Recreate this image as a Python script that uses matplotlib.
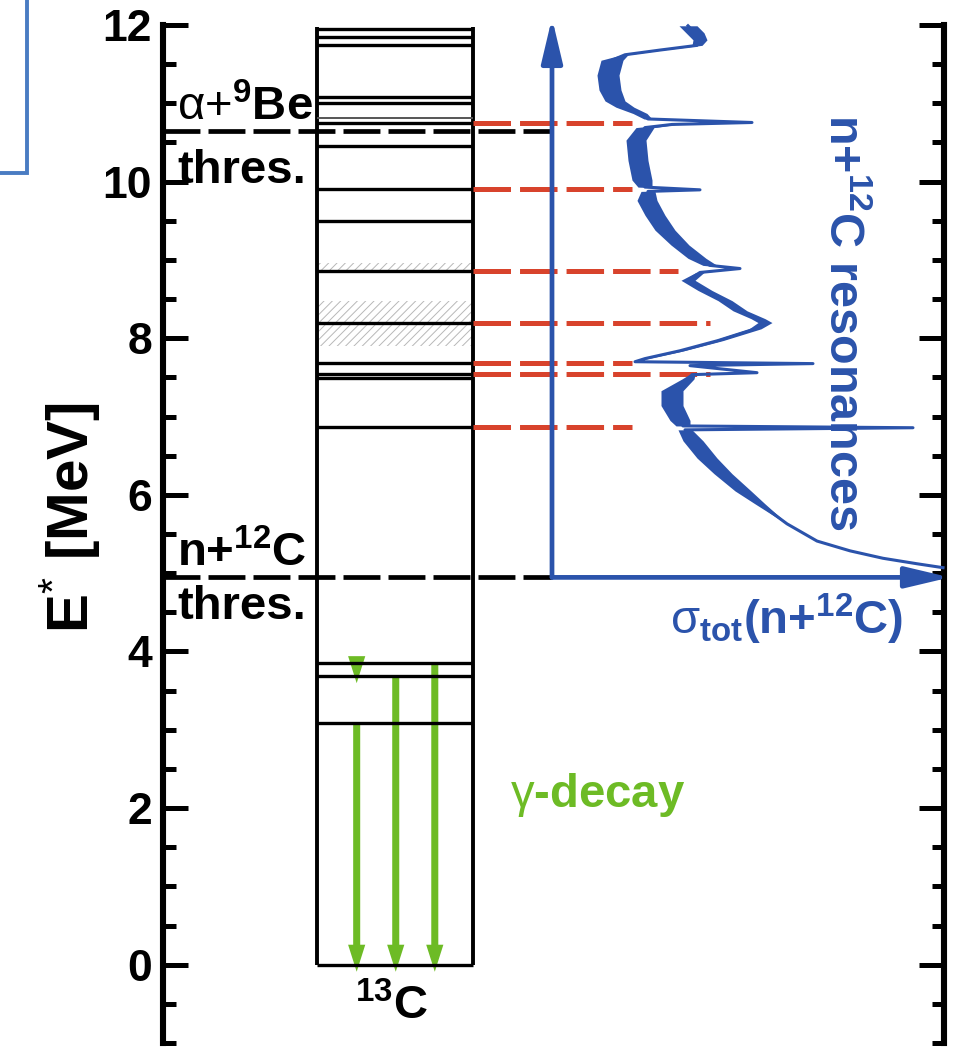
import matplotlib
matplotlib.use('Agg')
import matplotlib.pyplot as plt
from matplotlib.patches import FancyArrow, FancyArrowPatch, Rectangle
from matplotlib.ticker import MultipleLocator
import numpy as np

plt.rcParams['font.family'] = ['Liberation Sans', 'DejaVu Sans']
plt.rcParams['mathtext.fontset'] = 'custom'
plt.rcParams['mathtext.rm'] = 'Liberation Sans'
plt.rcParams['mathtext.bf'] = 'Liberation Sans:bold'
plt.rcParams['mathtext.it'] = 'Liberation Sans:italic'
plt.rcParams['lines.scale_dashes'] = False
plt.rcParams['hatch.linewidth'] = 0.7

# ---------------- data ----------------
# 13C excited levels [MeV]
levels_13C = [0.0, 3.089, 3.685, 3.854, 6.864, 7.492, 7.547, 7.686, 8.20, 8.86,
              9.50, 9.90, 10.46, 10.753, 10.818, 11.00, 11.08, 11.75, 11.85, 11.95]
# broad (hatched) level regions
broad_lo = [7.90, 8.86]
broad_hi = [8.48, 8.96]
# thresholds
thr_alpha9Be = 10.648
thr_n12C = 4.946
# levels seen as n+12C resonances (red dashed)
res_levels = [10.753, 9.90, 8.86, 8.20, 7.686, 7.547, 6.864]
# gamma transitions (from, to)
gamma_from = [3.089, 3.685, 3.854, 3.854]
gamma_to = [0.0, 0.0, 0.0, 3.685]

# total cross section n+12C (arb. units) vs E*
xs_E = [11.99, 11.90, 11.81, 11.74, 11.68, 11.62, 11.55, 11.36, 11.17, 11.03,
        10.95, 10.87, 10.80, 10.755, 10.73, 10.69, 10.53, 10.27, 10.02, 9.93,
        9.895, 9.875, 9.76, 9.57, 9.38, 9.19, 9.02, 8.93, 8.89, 8.84,
        8.74, 8.61, 8.48, 8.35, 8.25, 8.20, 8.12, 7.97, 7.84, 7.74,
        7.70, 7.676, 7.65, 7.56, 7.535, 7.48, 7.33, 7.14, 6.95, 6.88,
        6.857, 6.83, 6.69, 6.47, 6.27, 6.05, 5.885, 5.63, 5.41, 5.285,
        5.19, 5.12, 5.07]
xs_val = [136, 143, 148, 145, 108, 73, 60, 56, 58, 63,
          73, 88, 96, 200, 120, 93, 84, 86, 90, 93,
          148, 96, 95, 103, 113, 128, 145, 158, 188, 148,
          136, 153, 173, 188, 206, 213, 203, 166, 128, 93,
          83, 261, 138, 205, 140, 136, 120, 120, 128, 131,
          361, 133, 141, 155, 171, 191, 208, 235, 265, 298,
          331, 365, 391]
xs_noise = [9, 9, 7, 5, 2, 3, 11, 11, 11, 10,
            9, 7, 4, 0, 4, 9, 10, 10, 10, 7,
            0, 7, 10, 10, 10, 9, 9, 7, 0, 4,
            7, 7, 7, 7, 7, 7, 6, 5, 4, 3,
            1, 0, 2, 0, 3, 6, 11, 11, 10, 7,
            0, 7, 10, 10, 9, 8, 5, 0.5, 0, 0,
            0, 0, 0]

# ---------------- style ----------------
blue = '#2b53ab'
red = '#d8432c'
green = '#6dbb25'
box_l, box_r = 0.197, 0.397
blue_x = 0.498
gamma_x = [0.248, 0.298, 0.348, 0.248]
res_end = [0.6005, 0.6005, 0.659, 0.700, 0.6005, 0.700, 0.6005]
FS = 34

fig = plt.figure(figsize=(9.6, 10.52), dpi=100)
ax = fig.add_axes([163/960, 9/1052, 781/960, 1018/1052])
ax.set_xlim(0, 1)
ax.set_ylim(-1, 12)
for s in ['top', 'bottom']:
    ax.spines[s].set_visible(False)
for s in ['left', 'right']:
    ax.spines[s].set_linewidth(4.4)
ax.set_xticks([])
ax.yaxis.set_major_locator(MultipleLocator(2))
ax.yaxis.set_minor_locator(MultipleLocator(0.5))
ax.tick_params(axis='y', which='both', direction='in', left=True, right=True,
               labelleft=True, labelright=False)
ax.tick_params(axis='y', which='major', length=18, width=3.6, pad=8, labelsize=32)
ax.tick_params(axis='y', which='minor', length=9, width=3.6)
for lbl in ax.get_yticklabels():
    lbl.set_fontweight('bold')

# level box
ax.vlines([box_l, box_r], 0, 11.97, colors='k', lw=2.8)
for E in levels_13C:
    if E == 10.818:
        ax.hlines(E, box_l, box_r, colors='#555555', lw=1.4)
    else:
        ax.hlines(E, box_l, box_r, colors='k', lw=2.4)
for lo, hi in zip(broad_lo, broad_hi):
    ax.add_patch(Rectangle((box_l, lo), box_r - box_l, hi - lo, facecolor='none',
                           edgecolor='#b8b8b8', hatch='////', lw=0))

# thresholds
for thr in [thr_alpha9Be, thr_n12C]:
    ax.plot([0, blue_x], [thr, thr], color='k', lw=3.4, dashes=(26.6, 5.8),
            solid_capstyle='butt', dash_capstyle='butt')

# red dashed resonance lines
for E, xe in zip(res_levels, res_end):
    ax.plot([box_r, xe], [E, E], color=red, lw=3.6, dashes=(27, 6.5),
            dash_capstyle='butt')

# gamma arrows
hl = 0.345
for xg, ef, et in zip(gamma_x, gamma_from, gamma_to):
    tip = et - 0.09
    start = max(ef, tip + hl)
    ax.add_patch(FancyArrow(xg, start, 0, tip - start, width=0.009, head_width=0.022,
                            head_length=hl, length_includes_head=True,
                            color=green, lw=0))

# cross-section panel
ax2 = fig.add_axes([552/960, 9/1052, 392/960, 1018/1052], sharey=ax)
ax2.axis('off')
ax2.set_xlim(0, 392)
ax2.set_ylim(-1, 12)
E_arr = np.array(xs_E)
v = np.array(xs_val)
w = np.array(xs_noise)
ax2.fill_betweenx(E_arr, v - w, v + w, color=blue, lw=0, clip_on=False)
ax2.plot(v, E_arr, color=blue, lw=2.2, clip_on=False)
for (x0, y0, x1, y1) in [(0, thr_n12C, 0, 12.09), (0, thr_n12C, 398, thr_n12C)]:
    ar = FancyArrowPatch((x0, y0), (x1, y1), arrowstyle='-|>,head_length=1.35,head_width=0.32',
                         mutation_scale=20, lw=3.4, color=blue, shrinkA=0, shrinkB=0,
                         clip_on=False)
    ax2.add_patch(ar)

# texts
tkw = dict(fontsize=FS, fontweight='bold')
ax.text(0.018, 10.785, r'$\mathrm{\alpha{+}}^{\mathbf{9}}\mathbf{Be}$', fontsize=FS,
        ha='left', va='baseline')
ax.text(0.018, 9.98, 'thres.', ha='left', va='baseline', **tkw)
ax.text(0.018, 5.08, r'n+$^{\mathbf{12}}$C', ha='left', va='baseline', **tkw)
ax.text(0.018, 4.41, 'thres.', ha='left', va='baseline', **tkw)
ax.text(0.293, -0.70, r'$^{\mathbf{13}}$C', ha='center', va='baseline', **tkw)
ax.text(0.444, 2.02, r'$\mathrm{\gamma}$-decay', ha='left', va='baseline',
        color=green, **tkw)
ax.text(0.649, 4.22, r'$\mathrm{\sigma}_{\mathbf{tot}}$(n+$^{\mathbf{12}}$C)', ha='left',
        va='baseline', color=blue, **tkw)
ax.text(0.8707, 8.2, r'n+$^{\mathbf{12}}$C resonances', ha='center', va='center',
        rotation=-90, color=blue, fontsize=35, fontweight='bold')

fig.text(70/960, 1 - 518/1052, r'E$^{*}$ [MeV]', rotation=90, ha='center', va='center',
         fontsize=42, fontweight='bold')

# partial frame in the top-left corner
fig.patches.append(Rectangle((-0.05, 1 - 173/1052), 27/960 + 0.05, 0.3,
                             transform=fig.transFigure, fill=False,
                             edgecolor='#4a7cc2', lw=2.8))

fig.savefig('out.png', dpi=100)
